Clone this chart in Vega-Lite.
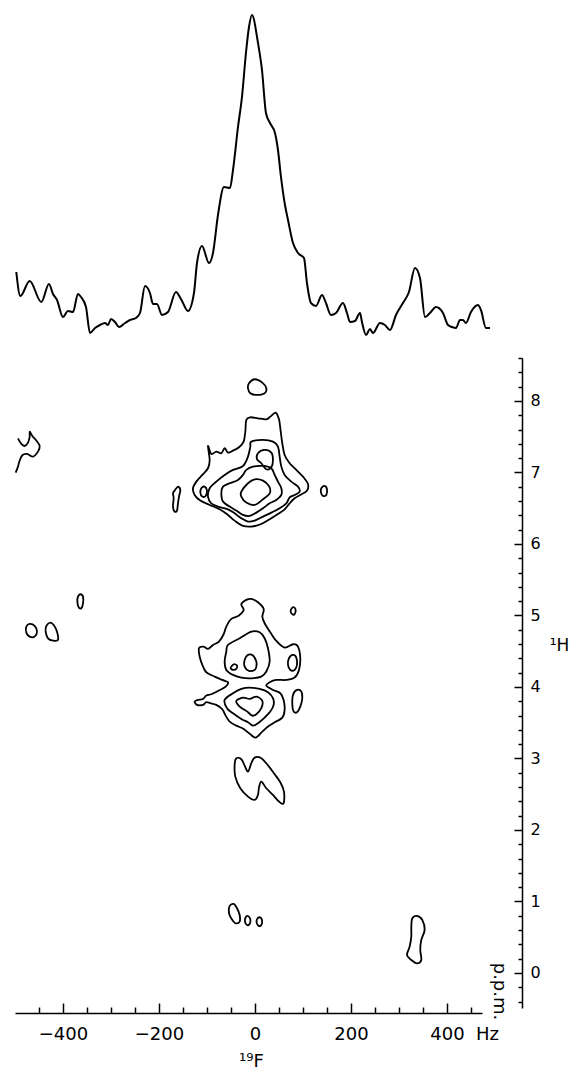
{
"$schema": "https://vega.github.io/schema/vega-lite/v6.json",
"padding": {"left": 12, "top": 10, "right": 0, "bottom": 0},
"spacing": 13,
"bounds": "flush",
"config": {"view": {"stroke": null}, "font": "DejaVu Sans",
 "axis": {"grid": false, "domainColor": "black", "tickColor": "black", "labelColor": "black", "titleColor": "black", "labelFont": "DejaVu Sans", "titleFont": "DejaVu Sans", "titleFontWeight": "normal", "domainWidth": 1.5, "tickWidth": 1.5}},
"datasets": {
"spectrum": [
{"hz":-497.3,"v":73},{"hz":-488.9,"v":49},{"hz":-469.4,"v":64},{"hz":-445.2,"v":43},{"hz":-429.2,"v":61},{"hz":-420.8,"v":51},{"hz":-412.5,"v":45},{"hz":-400,"v":28},{"hz":-389.6,"v":34},{"hz":-379.2,"v":33},{"hz":-368.8,"v":51},{"hz":-362.5,"v":48},{"hz":-352.1,"v":38},{"hz":-343.8,"v":12},{"hz":-333.3,"v":17},{"hz":-322.9,"v":20},{"hz":-312.5,"v":22},{"hz":-306.3,"v":20},{"hz":-300,"v":26},{"hz":-291.7,"v":23},{"hz":-283.3,"v":18},{"hz":-270.8,"v":22},{"hz":-260.4,"v":25},{"hz":-247.9,"v":27},{"hz":-239.6,"v":32},{"hz":-229.2,"v":59},{"hz":-218.8,"v":52},{"hz":-212.5,"v":41},{"hz":-204.2,"v":41},{"hz":-193.8,"v":30},{"hz":-181.3,"v":33},{"hz":-164.6,"v":53},{"hz":-154.2,"v":46},{"hz":-139.6,"v":34},{"hz":-127.1,"v":52},{"hz":-120.8,"v":82},{"hz":-110.4,"v":99},{"hz":-95.8,"v":82},{"hz":-87.5,"v":92},{"hz":-77.1,"v":130},{"hz":-64.6,"v":158},{"hz":-52.1,"v":157},{"hz":-45.8,"v":175},{"hz":-35.4,"v":218},{"hz":-27.1,"v":248},{"hz":-18.8,"v":292},{"hz":-12.5,"v":318},{"hz":-6.3,"v":330},{"hz":6.3,"v":302},{"hz":14.6,"v":275},{"hz":22.9,"v":232},{"hz":31.3,"v":222},{"hz":41.7,"v":212},{"hz":47.9,"v":195},{"hz":54.2,"v":168},{"hz":62.5,"v":140},{"hz":68.8,"v":125},{"hz":79.2,"v":102},{"hz":89.6,"v":92},{"hz":102.1,"v":87},{"hz":108.3,"v":62},{"hz":116.7,"v":42},{"hz":127.1,"v":39},{"hz":139.6,"v":50},{"hz":147.9,"v":42},{"hz":158.3,"v":30},{"hz":168.8,"v":32},{"hz":183.3,"v":42},{"hz":191.7,"v":32},{"hz":197.9,"v":23},{"hz":208.3,"v":24},{"hz":218.8,"v":32},{"hz":222.9,"v":23},{"hz":231.3,"v":10},{"hz":239.6,"v":16},{"hz":245.8,"v":12},{"hz":260.4,"v":22},{"hz":270.8,"v":20},{"hz":281.3,"v":15},{"hz":293.8,"v":30},{"hz":308.3,"v":42},{"hz":320.8,"v":53},{"hz":333.3,"v":77},{"hz":343.8,"v":67},{"hz":354.2,"v":28},{"hz":364.6,"v":32},{"hz":377.1,"v":38},{"hz":391.7,"v":32},{"hz":402.1,"v":20},{"hz":410.4,"v":18},{"hz":418.8,"v":17},{"hz":427.1,"v":25},{"hz":433.3,"v":25},{"hz":439.6,"v":22},{"hz":450,"v":33},{"hz":464.6,"v":40},{"hz":470.8,"v":35},{"hz":481.3,"v":17},{"hz":489.6,"v":17}
],
"openlines": [
{"c":"C1","i":0,"hz":-493.8,"ppm":7.477},{"c":"C1","i":1,"hz":-486.8,"ppm":7.398},{"c":"C1","i":2,"hz":-479.9,"ppm":7.37},{"c":"C1","i":3,"hz":-472.9,"ppm":7.417},{"c":"C1","i":4,"hz":-469.4,"ppm":7.501},{"c":"C1","i":5,"hz":-469.4,"ppm":7.571},{"c":"C1","i":6,"hz":-463.9,"ppm":7.51},{"c":"C1","i":7,"hz":-455.6,"ppm":7.445},{"c":"C1","i":8,"hz":-448.6,"ppm":7.37},{"c":"C1","i":9,"hz":-452.1,"ppm":7.291},{"c":"C1","i":10,"hz":-462.5,"ppm":7.221},{"c":"C1","i":11,"hz":-475.0,"ppm":7.258},{"c":"C1","i":12,"hz":-484.7,"ppm":7.24},{"c":"C1","i":13,"hz":-490.3,"ppm":7.165},{"c":"C1","i":14,"hz":-493.8,"ppm":7.081},{"c":"C1","i":15,"hz":-498.6,"ppm":6.997}
],
"contours": [
{"c":"A0","i":0,"hz":-12.5,"ppm":8.247},{"c":"A0","i":1,"hz":-0.7,"ppm":8.303},{"c":"A0","i":2,"hz":15.3,"ppm":8.256},{"c":"A0","i":3,"hz":23.6,"ppm":8.177},{"c":"A0","i":4,"hz":20.1,"ppm":8.107},{"c":"A0","i":5,"hz":2.8,"ppm":8.083},{"c":"A0","i":6,"hz":-9.7,"ppm":8.107},{"c":"A0","i":7,"hz":-14.6,"ppm":8.177},
{"c":"A1","i":0,"hz":-97.9,"ppm":7.37},{"c":"A1","i":1,"hz":-91.0,"ppm":7.258},{"c":"A1","i":2,"hz":-80.6,"ppm":7.291},{"c":"A1","i":3,"hz":-70.1,"ppm":7.268},{"c":"A1","i":4,"hz":-63.2,"ppm":7.338},{"c":"A1","i":5,"hz":-56.3,"ppm":7.277},{"c":"A1","i":6,"hz":-45.8,"ppm":7.305},{"c":"A1","i":7,"hz":-33.3,"ppm":7.352},{"c":"A1","i":8,"hz":-23.6,"ppm":7.431},{"c":"A1","i":9,"hz":-20.1,"ppm":7.571},{"c":"A1","i":10,"hz":-18.1,"ppm":7.734},{"c":"A1","i":11,"hz":-9.7,"ppm":7.771},{"c":"A1","i":12,"hz":6.3,"ppm":7.757},{"c":"A1","i":13,"hz":23.6,"ppm":7.743},{"c":"A1","i":14,"hz":31.9,"ppm":7.78},{"c":"A1","i":15,"hz":43.1,"ppm":7.836},{"c":"A1","i":16,"hz":50.0,"ppm":7.743},{"c":"A1","i":17,"hz":52.8,"ppm":7.617},{"c":"A1","i":18,"hz":56.9,"ppm":7.407},{"c":"A1","i":19,"hz":61.8,"ppm":7.244},{"c":"A1","i":20,"hz":72.2,"ppm":7.128},{"c":"A1","i":21,"hz":86.1,"ppm":7.035},{"c":"A1","i":22,"hz":100.0,"ppm":6.941},{"c":"A1","i":23,"hz":110.4,"ppm":6.839},{"c":"A1","i":24,"hz":108.3,"ppm":6.745},{"c":"A1","i":25,"hz":94.4,"ppm":6.685},{"c":"A1","i":26,"hz":82.6,"ppm":6.638},{"c":"A1","i":27,"hz":72.2,"ppm":6.568},{"c":"A1","i":28,"hz":61.8,"ppm":6.484},{"c":"A1","i":29,"hz":47.9,"ppm":6.419},{"c":"A1","i":30,"hz":30.6,"ppm":6.345},{"c":"A1","i":31,"hz":13.2,"ppm":6.279},{"c":"A1","i":32,"hz":-7.6,"ppm":6.242},{"c":"A1","i":33,"hz":-26.4,"ppm":6.256},{"c":"A1","i":34,"hz":-42.4,"ppm":6.326},{"c":"A1","i":35,"hz":-56.3,"ppm":6.405},{"c":"A1","i":36,"hz":-73.6,"ppm":6.484},{"c":"A1","i":37,"hz":-94.4,"ppm":6.545},{"c":"A1","i":38,"hz":-113.9,"ppm":6.606},{"c":"A1","i":39,"hz":-125.7,"ppm":6.685},{"c":"A1","i":40,"hz":-129.2,"ppm":6.778},{"c":"A1","i":41,"hz":-122.2,"ppm":6.871},{"c":"A1","i":42,"hz":-109.7,"ppm":6.965},{"c":"A1","i":43,"hz":-97.9,"ppm":7.058},{"c":"A1","i":44,"hz":-94.4,"ppm":7.174},
{"c":"A2","i":0,"hz":-7.6,"ppm":7.431},{"c":"A2","i":1,"hz":16.7,"ppm":7.454},{"c":"A2","i":2,"hz":37.5,"ppm":7.431},{"c":"A2","i":3,"hz":47.9,"ppm":7.361},{"c":"A2","i":4,"hz":51.4,"ppm":7.221},{"c":"A2","i":5,"hz":54.9,"ppm":7.081},{"c":"A2","i":6,"hz":61.8,"ppm":6.965},{"c":"A2","i":7,"hz":75.7,"ppm":6.871},{"c":"A2","i":8,"hz":89.6,"ppm":6.801},{"c":"A2","i":9,"hz":93.1,"ppm":6.732},{"c":"A2","i":10,"hz":82.6,"ppm":6.685},{"c":"A2","i":11,"hz":72.2,"ppm":6.652},{"c":"A2","i":12,"hz":65.3,"ppm":6.568},{"c":"A2","i":13,"hz":51.4,"ppm":6.498},{"c":"A2","i":14,"hz":34.0,"ppm":6.438},{"c":"A2","i":15,"hz":16.7,"ppm":6.382},{"c":"A2","i":16,"hz":-0.7,"ppm":6.326},{"c":"A2","i":17,"hz":-14.6,"ppm":6.312},{"c":"A2","i":18,"hz":-28.5,"ppm":6.359},{"c":"A2","i":19,"hz":-42.4,"ppm":6.428},{"c":"A2","i":20,"hz":-56.3,"ppm":6.484},{"c":"A2","i":21,"hz":-77.1,"ppm":6.522},{"c":"A2","i":22,"hz":-91.0,"ppm":6.568},{"c":"A2","i":23,"hz":-97.9,"ppm":6.662},{"c":"A2","i":24,"hz":-94.4,"ppm":6.778},{"c":"A2","i":25,"hz":-80.6,"ppm":6.871},{"c":"A2","i":26,"hz":-63.2,"ppm":6.965},{"c":"A2","i":27,"hz":-45.8,"ppm":7.035},{"c":"A2","i":28,"hz":-25.0,"ppm":7.09},{"c":"A2","i":29,"hz":-14.6,"ppm":7.221},{"c":"A2","i":30,"hz":-9.7,"ppm":7.361},
{"c":"A3","i":0,"hz":-18.1,"ppm":7.035},{"c":"A3","i":1,"hz":-4.2,"ppm":7.081},{"c":"A3","i":2,"hz":16.7,"ppm":7.09},{"c":"A3","i":3,"hz":34.0,"ppm":7.058},{"c":"A3","i":4,"hz":41.0,"ppm":6.965},{"c":"A3","i":5,"hz":47.9,"ppm":6.871},{"c":"A3","i":6,"hz":54.9,"ppm":6.778},{"c":"A3","i":7,"hz":54.9,"ppm":6.685},{"c":"A3","i":8,"hz":44.4,"ppm":6.615},{"c":"A3","i":9,"hz":30.6,"ppm":6.568},{"c":"A3","i":10,"hz":16.7,"ppm":6.498},{"c":"A3","i":11,"hz":2.8,"ppm":6.438},{"c":"A3","i":12,"hz":-11.1,"ppm":6.391},{"c":"A3","i":13,"hz":-25.0,"ppm":6.405},{"c":"A3","i":14,"hz":-38.9,"ppm":6.466},{"c":"A3","i":15,"hz":-52.8,"ppm":6.522},{"c":"A3","i":16,"hz":-66.7,"ppm":6.592},{"c":"A3","i":17,"hz":-70.1,"ppm":6.708},{"c":"A3","i":18,"hz":-66.7,"ppm":6.801},{"c":"A3","i":19,"hz":-52.8,"ppm":6.848},{"c":"A3","i":20,"hz":-35.4,"ppm":6.895},{"c":"A3","i":21,"hz":-25.0,"ppm":6.965},
{"c":"A4","i":0,"hz":-111.8,"ppm":6.778},{"c":"A4","i":1,"hz":-104.9,"ppm":6.801},{"c":"A4","i":2,"hz":-100.0,"ppm":6.745},{"c":"A4","i":3,"hz":-102.8,"ppm":6.671},{"c":"A4","i":4,"hz":-109.7,"ppm":6.662},{"c":"A4","i":5,"hz":-113.9,"ppm":6.718},
{"c":"A5","i":0,"hz":-28.5,"ppm":6.732},{"c":"A5","i":1,"hz":-14.6,"ppm":6.848},{"c":"A5","i":2,"hz":-0.7,"ppm":6.904},{"c":"A5","i":3,"hz":16.7,"ppm":6.885},{"c":"A5","i":4,"hz":29.9,"ppm":6.801},{"c":"A5","i":5,"hz":30.6,"ppm":6.708},{"c":"A5","i":6,"hz":16.7,"ppm":6.624},{"c":"A5","i":7,"hz":-0.7,"ppm":6.545},{"c":"A5","i":8,"hz":-18.1,"ppm":6.578},{"c":"A5","i":9,"hz":-28.5,"ppm":6.662},
{"c":"A6","i":0,"hz":6.3,"ppm":7.268},{"c":"A6","i":1,"hz":20.1,"ppm":7.314},{"c":"A6","i":2,"hz":34.0,"ppm":7.277},{"c":"A6","i":3,"hz":37.5,"ppm":7.174},{"c":"A6","i":4,"hz":34.0,"ppm":7.072},{"c":"A6","i":5,"hz":23.6,"ppm":7.044},{"c":"A6","i":6,"hz":13.2,"ppm":7.128},{"c":"A6","i":7,"hz":4.2,"ppm":7.184},
{"c":"A7","i":0,"hz":-167.4,"ppm":6.745},{"c":"A7","i":1,"hz":-160.4,"ppm":6.801},{"c":"A7","i":2,"hz":-155.6,"ppm":6.755},{"c":"A7","i":3,"hz":-158.3,"ppm":6.662},{"c":"A7","i":4,"hz":-160.4,"ppm":6.568},{"c":"A7","i":5,"hz":-162.5,"ppm":6.466},{"c":"A7","i":6,"hz":-167.4,"ppm":6.452},{"c":"A7","i":7,"hz":-170.8,"ppm":6.522},{"c":"A7","i":8,"hz":-169.4,"ppm":6.638},{"c":"A7","i":9,"hz":-170.8,"ppm":6.708},
{"c":"A8","i":0,"hz":138.2,"ppm":6.778},{"c":"A8","i":1,"hz":145.1,"ppm":6.811},{"c":"A8","i":2,"hz":150.0,"ppm":6.764},{"c":"A8","i":3,"hz":148.6,"ppm":6.685},{"c":"A8","i":4,"hz":141.7,"ppm":6.671},{"c":"A8","i":5,"hz":137.5,"ppm":6.718},
{"c":"B1","i":0,"hz":-7.6,"ppm":5.231},{"c":"B1","i":1,"hz":6.2,"ppm":5.184},{"c":"B1","i":2,"hz":18.1,"ppm":5.091},{"c":"B1","i":3,"hz":15.3,"ppm":4.984},{"c":"B1","i":4,"hz":20.1,"ppm":4.891},{"c":"B1","i":5,"hz":31.9,"ppm":4.765},{"c":"B1","i":6,"hz":44.4,"ppm":4.644},{"c":"B1","i":7,"hz":61.8,"ppm":4.55},{"c":"B1","i":8,"hz":79.2,"ppm":4.597},{"c":"B1","i":9,"hz":89.6,"ppm":4.564},{"c":"B1","i":10,"hz":94.4,"ppm":4.401},{"c":"B1","i":11,"hz":91.7,"ppm":4.238},{"c":"B1","i":12,"hz":82.6,"ppm":4.131},{"c":"B1","i":13,"hz":65.3,"ppm":4.098},{"c":"B1","i":14,"hz":44.4,"ppm":4.098},{"c":"B1","i":15,"hz":30.6,"ppm":4.066},{"c":"B1","i":16,"hz":23.6,"ppm":4.019},{"c":"B1","i":17,"hz":37.5,"ppm":3.958},{"c":"B1","i":18,"hz":52.8,"ppm":3.912},{"c":"B1","i":19,"hz":59.7,"ppm":3.818},{"c":"B1","i":20,"hz":61.8,"ppm":3.679},{"c":"B1","i":21,"hz":56.9,"ppm":3.571},{"c":"B1","i":22,"hz":41.0,"ppm":3.506},{"c":"B1","i":23,"hz":27.1,"ppm":3.446},{"c":"B1","i":24,"hz":15.3,"ppm":3.376},{"c":"B1","i":25,"hz":1.4,"ppm":3.292},{"c":"B1","i":26,"hz":-9.7,"ppm":3.338},{"c":"B1","i":27,"hz":-23.6,"ppm":3.413},{"c":"B1","i":28,"hz":-38.9,"ppm":3.459},{"c":"B1","i":29,"hz":-52.8,"ppm":3.515},{"c":"B1","i":30,"hz":-61.1,"ppm":3.599},{"c":"B1","i":31,"hz":-68.1,"ppm":3.688},{"c":"B1","i":32,"hz":-80.6,"ppm":3.749},{"c":"B1","i":33,"hz":-93.1,"ppm":3.772},{"c":"B1","i":34,"hz":-101.4,"ppm":3.786},{"c":"B1","i":35,"hz":-108.3,"ppm":3.749},{"c":"B1","i":36,"hz":-120.8,"ppm":3.749},{"c":"B1","i":37,"hz":-125.7,"ppm":3.795},{"c":"B1","i":38,"hz":-118.8,"ppm":3.818},{"c":"B1","i":39,"hz":-108.3,"ppm":3.832},{"c":"B1","i":40,"hz":-101.4,"ppm":3.879},{"c":"B1","i":41,"hz":-91.0,"ppm":3.898},{"c":"B1","i":42,"hz":-77.1,"ppm":3.944},{"c":"B1","i":43,"hz":-61.1,"ppm":4.005},{"c":"B1","i":44,"hz":-56.3,"ppm":4.066},{"c":"B1","i":45,"hz":-68.1,"ppm":4.098},{"c":"B1","i":46,"hz":-84.0,"ppm":4.145},{"c":"B1","i":47,"hz":-101.4,"ppm":4.205},{"c":"B1","i":48,"hz":-109.7,"ppm":4.308},{"c":"B1","i":49,"hz":-115.3,"ppm":4.425},{"c":"B1","i":50,"hz":-116.7,"ppm":4.541},{"c":"B1","i":51,"hz":-106.9,"ppm":4.564},{"c":"B1","i":52,"hz":-97.9,"ppm":4.532},{"c":"B1","i":53,"hz":-87.5,"ppm":4.588},{"c":"B1","i":54,"hz":-75.0,"ppm":4.634},{"c":"B1","i":55,"hz":-65.3,"ppm":4.737},{"c":"B1","i":56,"hz":-59.7,"ppm":4.844},{"c":"B1","i":57,"hz":-49.3,"ppm":4.951},{"c":"B1","i":58,"hz":-33.3,"ppm":4.998},{"c":"B1","i":59,"hz":-23.6,"ppm":5.077},{"c":"B1","i":60,"hz":-28.5,"ppm":5.156},{"c":"B1","i":61,"hz":-18.1,"ppm":5.217},
{"c":"B2","i":0,"hz":-56.3,"ppm":4.588},{"c":"B2","i":1,"hz":-31.9,"ppm":4.681},{"c":"B2","i":2,"hz":-7.6,"ppm":4.774},{"c":"B2","i":3,"hz":9.7,"ppm":4.765},{"c":"B2","i":4,"hz":20.1,"ppm":4.681},{"c":"B2","i":5,"hz":27.1,"ppm":4.541},{"c":"B2","i":6,"hz":30.6,"ppm":4.355},{"c":"B2","i":7,"hz":23.6,"ppm":4.215},{"c":"B2","i":8,"hz":13.2,"ppm":4.145},{"c":"B2","i":9,"hz":-7.6,"ppm":4.121},{"c":"B2","i":10,"hz":-28.5,"ppm":4.131},{"c":"B2","i":11,"hz":-45.8,"ppm":4.168},{"c":"B2","i":12,"hz":-59.7,"ppm":4.238},{"c":"B2","i":13,"hz":-63.2,"ppm":4.355},{"c":"B2","i":14,"hz":-59.7,"ppm":4.494},
{"c":"B3","i":0,"hz":-21.5,"ppm":4.378},{"c":"B3","i":1,"hz":-14.6,"ppm":4.448},{"c":"B3","i":2,"hz":-4.2,"ppm":4.439},{"c":"B3","i":3,"hz":2.8,"ppm":4.355},{"c":"B3","i":4,"hz":2.8,"ppm":4.285},{"c":"B3","i":5,"hz":-0.7,"ppm":4.238},{"c":"B3","i":6,"hz":-12.5,"ppm":4.224},{"c":"B3","i":7,"hz":-21.5,"ppm":4.285},
{"c":"B4","i":0,"hz":-49.3,"ppm":4.285},{"c":"B4","i":1,"hz":-44.4,"ppm":4.317},{"c":"B4","i":2,"hz":-37.5,"ppm":4.299},{"c":"B4","i":3,"hz":-38.9,"ppm":4.252},{"c":"B4","i":4,"hz":-45.8,"ppm":4.238},{"c":"B4","i":5,"hz":-50.7,"ppm":4.261},
{"c":"B5","i":0,"hz":70.8,"ppm":4.401},{"c":"B5","i":1,"hz":79.2,"ppm":4.448},{"c":"B5","i":2,"hz":86.1,"ppm":4.411},{"c":"B5","i":3,"hz":87.5,"ppm":4.308},{"c":"B5","i":4,"hz":82.6,"ppm":4.238},{"c":"B5","i":5,"hz":73.6,"ppm":4.238},{"c":"B5","i":6,"hz":68.8,"ppm":4.308},
{"c":"B6","i":0,"hz":75.7,"ppm":5.091},{"c":"B6","i":1,"hz":80.6,"ppm":5.115},{"c":"B6","i":2,"hz":84.7,"ppm":5.077},{"c":"B6","i":3,"hz":82.6,"ppm":5.017},{"c":"B6","i":4,"hz":77.8,"ppm":5.017},{"c":"B6","i":5,"hz":74.3,"ppm":5.054},
{"c":"B7","i":0,"hz":79.2,"ppm":3.888},{"c":"B7","i":1,"hz":87.5,"ppm":3.958},{"c":"B7","i":2,"hz":96.5,"ppm":3.935},{"c":"B7","i":3,"hz":98.6,"ppm":3.842},{"c":"B7","i":4,"hz":94.4,"ppm":3.725},{"c":"B7","i":5,"hz":87.5,"ppm":3.646},{"c":"B7","i":6,"hz":80.6,"ppm":3.655},{"c":"B7","i":7,"hz":77.8,"ppm":3.749},
{"c":"B8","i":0,"hz":-63.2,"ppm":3.818},{"c":"B8","i":1,"hz":-45.8,"ppm":3.912},{"c":"B8","i":2,"hz":-28.5,"ppm":3.972},{"c":"B8","i":3,"hz":-11.1,"ppm":3.991},{"c":"B8","i":4,"hz":9.7,"ppm":3.972},{"c":"B8","i":5,"hz":27.1,"ppm":3.926},{"c":"B8","i":6,"hz":37.5,"ppm":3.842},{"c":"B8","i":7,"hz":38.9,"ppm":3.749},{"c":"B8","i":8,"hz":31.9,"ppm":3.655},{"c":"B8","i":9,"hz":20.1,"ppm":3.571},{"c":"B8","i":10,"hz":6.2,"ppm":3.492},{"c":"B8","i":11,"hz":-4.2,"ppm":3.459},{"c":"B8","i":12,"hz":-14.6,"ppm":3.506},{"c":"B8","i":13,"hz":-28.5,"ppm":3.553},{"c":"B8","i":14,"hz":-45.8,"ppm":3.632},{"c":"B8","i":15,"hz":-58.3,"ppm":3.702},
{"c":"B9","i":0,"hz":-38.9,"ppm":3.804},{"c":"B9","i":1,"hz":-25.0,"ppm":3.851},{"c":"B9","i":2,"hz":-11.1,"ppm":3.832},{"c":"B9","i":3,"hz":2.8,"ppm":3.865},{"c":"B9","i":4,"hz":15.3,"ppm":3.804},{"c":"B9","i":5,"hz":13.2,"ppm":3.702},{"c":"B9","i":6,"hz":2.8,"ppm":3.618},{"c":"B9","i":7,"hz":-5.6,"ppm":3.599},{"c":"B9","i":8,"hz":-18.1,"ppm":3.665},{"c":"B9","i":9,"hz":-31.9,"ppm":3.725},
{"c":"B10","i":0,"hz":-38.9,"ppm":3.003},{"c":"B10","i":1,"hz":-28.5,"ppm":2.989},{"c":"B10","i":2,"hz":-21.5,"ppm":2.9},{"c":"B10","i":3,"hz":-14.6,"ppm":2.816},{"c":"B10","i":4,"hz":-7.6,"ppm":2.933},{"c":"B10","i":5,"hz":-0.7,"ppm":3.012},{"c":"B10","i":6,"hz":13.2,"ppm":3.003},{"c":"B10","i":7,"hz":29.2,"ppm":2.886},{"c":"B10","i":8,"hz":41.0,"ppm":2.779},{"c":"B10","i":9,"hz":52.8,"ppm":2.667},{"c":"B10","i":10,"hz":60.4,"ppm":2.536},{"c":"B10","i":11,"hz":59.7,"ppm":2.373},{"c":"B10","i":12,"hz":50.0,"ppm":2.397},{"c":"B10","i":13,"hz":37.5,"ppm":2.49},{"c":"B10","i":14,"hz":23.6,"ppm":2.583},{"c":"B10","i":15,"hz":13.2,"ppm":2.676},{"c":"B10","i":16,"hz":8.3,"ppm":2.592},{"c":"B10","i":17,"hz":6.2,"ppm":2.49},{"c":"B10","i":18,"hz":-0.7,"ppm":2.42},{"c":"B10","i":19,"hz":-14.6,"ppm":2.466},{"c":"B10","i":20,"hz":-30.6,"ppm":2.583},{"c":"B10","i":21,"hz":-41.0,"ppm":2.746},{"c":"B10","i":22,"hz":-42.4,"ppm":2.909},
{"c":"C2","i":0,"hz":-368.8,"ppm":5.263},{"c":"C2","i":1,"hz":-363.9,"ppm":5.296},{"c":"C2","i":2,"hz":-358.3,"ppm":5.263},{"c":"C2","i":3,"hz":-358.3,"ppm":5.17},{"c":"C2","i":4,"hz":-361.8,"ppm":5.1},{"c":"C2","i":5,"hz":-367.4,"ppm":5.114},{"c":"C2","i":6,"hz":-370.1,"ppm":5.193},
{"c":"C3","i":0,"hz":-476.4,"ppm":4.843},{"c":"C3","i":1,"hz":-469.4,"ppm":4.881},{"c":"C3","i":2,"hz":-459.0,"ppm":4.853},{"c":"C3","i":3,"hz":-454.2,"ppm":4.773},{"c":"C3","i":4,"hz":-459.0,"ppm":4.704},{"c":"C3","i":5,"hz":-469.4,"ppm":4.704},{"c":"C3","i":6,"hz":-476.4,"ppm":4.76},
{"c":"C4","i":0,"hz":-434.7,"ppm":4.853},{"c":"C4","i":1,"hz":-426.4,"ppm":4.899},{"c":"C4","i":2,"hz":-419.4,"ppm":4.867},{"c":"C4","i":3,"hz":-412.5,"ppm":4.773},{"c":"C4","i":4,"hz":-410.4,"ppm":4.657},{"c":"C4","i":5,"hz":-420.8,"ppm":4.648},{"c":"C4","i":6,"hz":-431.3,"ppm":4.68},{"c":"C4","i":7,"hz":-436.1,"ppm":4.773},
{"c":"D1","i":0,"hz":-52.8,"ppm":0.937},{"c":"D1","i":1,"hz":-44.4,"ppm":0.965},{"c":"D1","i":2,"hz":-37.5,"ppm":0.905},{"c":"D1","i":3,"hz":-31.9,"ppm":0.811},{"c":"D1","i":4,"hz":-31.9,"ppm":0.718},{"c":"D1","i":5,"hz":-40.3,"ppm":0.695},{"c":"D1","i":6,"hz":-47.2,"ppm":0.741},{"c":"D1","i":7,"hz":-54.2,"ppm":0.835},
{"c":"D2","i":0,"hz":-19.4,"ppm":0.779},{"c":"D2","i":1,"hz":-14.6,"ppm":0.797},{"c":"D2","i":2,"hz":-9.7,"ppm":0.751},{"c":"D2","i":3,"hz":-11.1,"ppm":0.685},{"c":"D2","i":4,"hz":-16.7,"ppm":0.671},{"c":"D2","i":5,"hz":-20.8,"ppm":0.718},
{"c":"D3","i":0,"hz":4.2,"ppm":0.751},{"c":"D3","i":1,"hz":9.7,"ppm":0.779},{"c":"D3","i":2,"hz":14.6,"ppm":0.741},{"c":"D3","i":3,"hz":13.2,"ppm":0.671},{"c":"D3","i":4,"hz":7.6,"ppm":0.658},{"c":"D3","i":5,"hz":3.5,"ppm":0.704},
{"c":"D4","i":0,"hz":327.8,"ppm":0.765},{"c":"D4","i":1,"hz":337.5,"ppm":0.797},{"c":"D4","i":2,"hz":348.6,"ppm":0.741},{"c":"D4","i":3,"hz":353.5,"ppm":0.602},{"c":"D4","i":4,"hz":346.5,"ppm":0.462},{"c":"D4","i":5,"hz":344.4,"ppm":0.322},{"c":"D4","i":6,"hz":346.5,"ppm":0.182},{"c":"D4","i":7,"hz":337.5,"ppm":0.135},{"c":"D4","i":8,"hz":325.7,"ppm":0.182},{"c":"D4","i":9,"hz":316.7,"ppm":0.252},{"c":"D4","i":10,"hz":322.2,"ppm":0.368},{"c":"D4","i":11,"hz":325.7,"ppm":0.508},{"c":"D4","i":12,"hz":325.7,"ppm":0.648}
]
},
"vconcat": [
{
 "width": 467, "height": 335,
 "data": {"name": "spectrum"},
 "mark": {"type": "line", "color": "black", "strokeWidth": 2, "interpolate": "monotone"},
 "encoding": {
  "x": {"field": "hz", "type": "quantitative", "scale": {"domain": [-500, 473], "nice": false, "zero": false}, "axis": null},
  "y": {"field": "v", "type": "quantitative", "scale": {"domain": [0, 335], "nice": false, "zero": false}, "axis": null}
 }
},
{
 "width": 467, "height": 650,
 "resolve": {"axis": {"y": "independent"}},
 "layer": [
  {
   "data": {"name": "contours"},
   "mark": {"type": "line", "color": "black", "strokeWidth": 1.8, "interpolate": "cardinal-closed"},
   "encoding": {
    "x": {"field": "hz", "type": "quantitative", "scale": {"domain": [-500, 473], "nice": false, "zero": false},
     "axis": {"orient": "bottom", "offset": 5, "values": [-450,-400,-350,-300,-250,-200,-150,-100,-50,0,50,100,150,200,250,300,350,400,450],
      "tickSize": {"condition": {"test": "datum.value % 200 === 0", "value": -10}, "value": -6},
      "labelExpr": "datum.value % 200 === 0 ? (datum.value === 400 ? '\u200b\u00a0\u00a0\u00a0\u00a0\u00a0\u00a0400\u00a0\u00a0Hz' : datum.label) : ''",
      "labelFontSize": 18, "labelPadding": 22, "labelBaseline": "top", "labelFlush": false, "labelOverlap": false,
      "title": "¹⁹F", "titleX": 236, "titleY": 53, "titleAlign": "center", "titleBaseline": "alphabetic", "titleFontSize": 18}},
    "y": {"field": "ppm", "type": "quantitative", "scale": {"domain": [-0.49, 8.6], "nice": false, "zero": false},
     "axis": {"orient": "right", "offset": 40,
      "values": [-0.4,-0.2,0,0.2,0.4,0.6,0.8,1,1.2,1.4,1.6,1.8,2,2.2,2.4,2.6,2.8,3,3.2,3.4,3.6,3.8,4,4.2,4.4,4.6,4.8,5,5.2,5.4,5.6,5.8,6,6.2,6.4,6.6,6.8,7,7.2,7.4,7.6,7.8,8,8.2,8.4,8.6],
      "tickSize": {"condition": {"test": "abs(datum.value - round(datum.value)) < 0.01", "value": -8}, "value": -4},
      "labelExpr": "abs(datum.value - round(datum.value)) < 0.01 ? format(round(datum.value), 'd') : ''",
      "labelFontSize": 16, "labelPadding": 16, "labelAlign": "left", "labelBaseline": "middle", "labelFlush": false, "labelOverlap": false,
      "title": "¹H", "titleAngle": 0, "titleX": 37, "titleY": 287, "titleAlign": "center", "titleBaseline": "middle", "titleFontSize": 17}},
    "detail": {"field": "c"},
    "order": {"field": "i", "type": "quantitative"}
   }
  },
  {
   "data": {"name": "openlines"},
   "mark": {"type": "line", "color": "black", "strokeWidth": 1.8, "interpolate": "cardinal"},
   "encoding": {
    "x": {"field": "hz", "type": "quantitative", "scale": {"domain": [-500, 473], "nice": false, "zero": false},
     "axis": {"orient": "bottom", "offset": 5, "values": [-450,-400,-350,-300,-250,-200,-150,-100,-50,0,50,100,150,200,250,300,350,400,450],
      "tickSize": {"condition": {"test": "datum.value % 200 === 0", "value": -10}, "value": -6},
      "labelExpr": "datum.value % 200 === 0 ? (datum.value === 400 ? '\u200b\u00a0\u00a0\u00a0\u00a0\u00a0\u00a0400\u00a0\u00a0Hz' : datum.label) : ''",
      "labelFontSize": 18, "labelPadding": 22, "labelBaseline": "top", "labelFlush": false, "labelOverlap": false,
      "title": "¹⁹F", "titleX": 236, "titleY": 53, "titleAlign": "center", "titleBaseline": "alphabetic", "titleFontSize": 18}},
    "y": {"field": "ppm", "type": "quantitative", "scale": {"domain": [-0.49, 8.6], "nice": false, "zero": false},
     "axis": {"orient": "right", "offset": 40, "domain": false, "ticks": false, "labels": false,
      "title": "p.p.m.", "titleAngle": 90, "titleX": -24, "titleY": 633, "titleAlign": "center", "titleBaseline": "middle", "titleFontSize": 18}},
    "detail": {"field": "c"},
    "order": {"field": "i", "type": "quantitative"}
   }
  }
 ]
}
]
}
